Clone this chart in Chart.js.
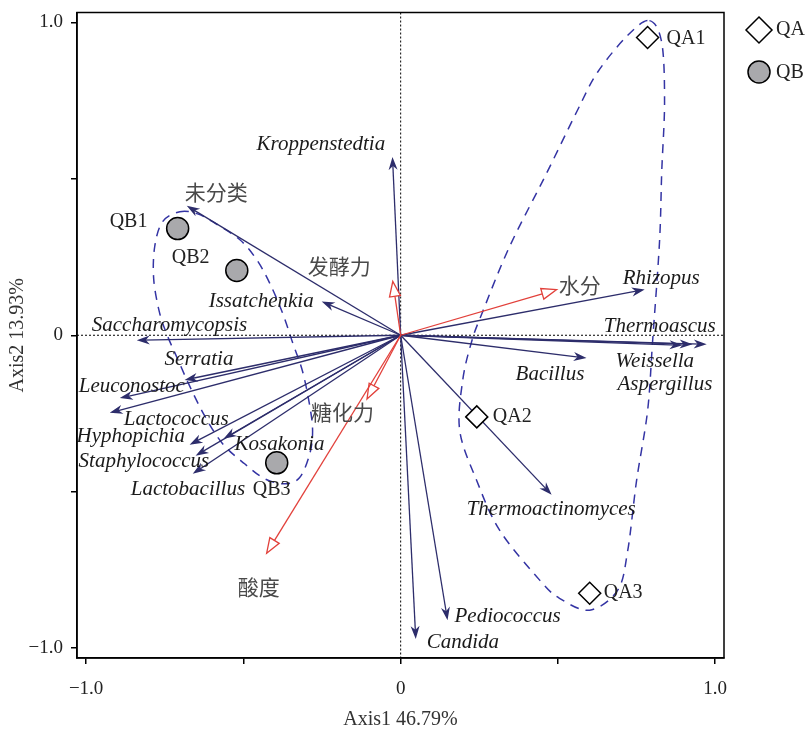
<!DOCTYPE html>
<html>
<head>
<meta charset="utf-8">
<script src="https://cdn.jsdelivr.net/npm/chart.js@4.4.1/dist/chart.umd.min.js"></script>
<style>
  html, body { margin: 0; padding: 0; background: #fff; }
  canvas { display: block; }
</style>
</head>
<body>
<canvas id="rdaChart" width="806" height="734"></canvas>
<script>
// taxa arrows (Axis1, Axis2)
const taxa = ['Kroppenstedtia', '未分类', 'Issatchenkia', 'Saccharomycopsis', 'Serratia', 'Leuconostoc',
  'Lactococcus', 'Hyphopichia', 'Staphylococcus', 'Lactobacillus', 'Kosakonia', 'Rhizopus',
  'Thermoascus', 'Weissella', 'Aspergillus', 'Bacillus', 'Thermoactinomyces', 'Pediococcus', 'Candida'];
const taxaAxis1 = [-0.026, -0.680, -0.251, -0.839, -0.687, -0.893, -0.925, -0.671, -0.652, -0.661, -0.563,
  0.776, 0.973, 0.928, 0.896, 0.591, 0.480, 0.149, 0.048];
const taxaAxis2 = [0.570, 0.414, 0.108, -0.016, -0.143, -0.201, -0.248, -0.350, -0.385, -0.443, -0.331,
  0.146, -0.029, -0.029, -0.032, -0.073, -0.510, -0.911, -0.971];

// environmental factors (red arrows)
const factors = ['发酵力', '水分', '糖化力', '酸度'];
const factorAxis1 = [-0.025, 0.496, -0.107, -0.426];
const factorAxis2 = [0.172, 0.146, -0.204, -0.697];

// samples
const qaNames = ['QA1', 'QA2', 'QA3'];
const qaAxis1 = [0.785, 0.242, 0.601];
const qaAxis2 = [0.952, -0.261, -0.825];
const qbNames = ['QB1', 'QB2', 'QB3'];
const qbAxis1 = [-0.709, -0.521, -0.394];
const qbAxis2 = [0.341, 0.207, -0.408];

// group outlines (dashed)
const qaHullAxis1 = [0.791, 0.830, 0.839, 0.830, 0.823, 0.801, 0.785, 0.750, 0.722, 0.690, 0.601, 0.505,
  0.442, 0.315, 0.242, 0.188, 0.197, 0.226, 0.261, 0.346, 0.458, 0.559, 0.626, 0.722];
const qaHullAxis2 = [1.006, 0.936, 0.745, 0.522, 0.299, -0.019, -0.242, -0.465, -0.688, -0.815, -0.879, -0.841,
  -0.783, -0.624, -0.465, -0.306, -0.146, -0.019, 0.076, 0.283, 0.506, 0.713, 0.841, 0.959];
const qbHullAxis1 = [-0.702, -0.648, -0.598, -0.512, -0.458, -0.416, -0.375, -0.343, -0.312, -0.289, -0.280,
  -0.289, -0.321, -0.369, -0.432, -0.496, -0.566, -0.623, -0.671, -0.709, -0.741, -0.766, -0.785, -0.782, -0.757];
const qbHullAxis2 = [0.395, 0.389, 0.363, 0.306, 0.242, 0.166, 0.070, -0.025, -0.115, -0.226, -0.306,
  -0.379, -0.455, -0.475, -0.459, -0.411, -0.347, -0.258, -0.162, -0.076, -0.003, 0.070, 0.178, 0.283, 0.363];

// axes
const axisTicks = [-1, -0.5, 0, 0.5, 1];
const axisTickLabels = ['−1.0', '', '0', '', '1.0'];
const xTitle = 'Axis1 46.79%';
const yTitle = 'Axis2 13.93%';

// label placement (pixel offset from arrow tip / marker, left edge + middle)
const labelOffset = {
  'Kroppenstedtia': [-136, -13], '未分类': [-2, -14], 'Issatchenkia': [-113, 0],
  'Saccharomycopsis': [-45, -15], 'Serratia': [-20, -20], 'Leuconostoc': [-41, -12],
  'Lactococcus': [14, 7], 'Hyphopichia': [-113, -8], 'Staphylococcus': [-117, 6],
  'Lactobacillus': [-62, 16], 'Kosakonia': [11, 6], 'Rhizopus': [-22, -11],
  'Thermoascus': [-103, -18], 'Weissella': [-77, 17], 'Aspergillus': [-65, 39],
  'Bacillus': [-71, 16], 'Thermoactinomyces': [-85, 15], 'Pediococcus': [7, -4], 'Candida': [11, 4],
  '发酵力': [-85, -15], '水分': [2, -5], '糖化力': [-56, 13], '酸度': [-29, 34],
  'QA1': [19, 1], 'QA2': [16, 0], 'QA3': [14, -1],
  'QB1': [-68, -7], 'QB2': [-65, -13], 'QB3': [-24, 27]
};

const NAVY = '#2d2d6b';
const RED = '#e2413b';
const HULL = '#3434a4';
const SERIF = "'Liberation Serif', 'Times New Roman', serif";
const CJK = "'Noto Sans CJK SC', sans-serif";

function drawHull(ctx, xs, ys, ax1, ax2) {
  const pts = ax1.map((v, i) => [xs.getPixelForValue(v), ys.getPixelForValue(ax2[i])]);
  const n = pts.length;
  ctx.beginPath();
  ctx.moveTo(pts[0][0], pts[0][1]);
  for (let i = 0; i < n; i++) {
    const p0 = pts[(i - 1 + n) % n], p1 = pts[i], p2 = pts[(i + 1) % n], p3 = pts[(i + 2) % n];
    ctx.bezierCurveTo(
      p1[0] + (p2[0] - p0[0]) / 6, p1[1] + (p2[1] - p0[1]) / 6,
      p2[0] - (p3[0] - p1[0]) / 6, p2[1] - (p3[1] - p1[1]) / 6,
      p2[0], p2[1]);
  }
  ctx.closePath();
  ctx.strokeStyle = HULL;
  ctx.lineWidth = 1.5;
  ctx.setLineDash([9, 7]);
  ctx.stroke();
  ctx.setLineDash([]);
}

function drawArrow(ctx, x0, y0, x1, y1, color, filled) {
  const ang = Math.atan2(y1 - y0, x1 - x0);
  const len = filled ? 13 : 15;
  const half = filled ? 4.5 : 5.5;
  const bx = x1 - len * Math.cos(ang), by = y1 - len * Math.sin(ang);
  ctx.strokeStyle = color;
  ctx.lineWidth = 1.3;
  ctx.beginPath();
  ctx.moveTo(x0, y0);
  ctx.lineTo(filled ? x1 - 6 * Math.cos(ang) : bx, filled ? y1 - 6 * Math.sin(ang) : by);
  ctx.stroke();
  ctx.beginPath();
  ctx.moveTo(x1, y1);
  ctx.lineTo(bx + half * Math.sin(ang), by - half * Math.cos(ang));
  if (filled) ctx.lineTo(x1 - 0.7 * len * Math.cos(ang), y1 - 0.7 * len * Math.sin(ang));
  ctx.lineTo(bx - half * Math.sin(ang), by + half * Math.cos(ang));
  ctx.closePath();
  if (filled) {
    ctx.fillStyle = color;
    ctx.fill();
  } else {
    ctx.fillStyle = '#fff';
    ctx.fill();
    ctx.stroke();
  }
}

function isCJK(s) { return /[\u4e00-\u9fff]/.test(s); }

const biplotPlugin = {
  id: 'biplot',
  beforeDatasetsDraw(chart) {
    const { ctx, chartArea: a, scales: { x, y } } = chart;
    ctx.save();
    ctx.beginPath();
    ctx.rect(a.left, a.top, a.right - a.left, a.bottom - a.top);
    ctx.clip();

    drawHull(ctx, x, y, qaHullAxis1, qaHullAxis2);
    drawHull(ctx, x, y, qbHullAxis1, qbHullAxis2);

    const x0 = x.getPixelForValue(0), y0 = y.getPixelForValue(0);
    ctx.strokeStyle = '#000';
    ctx.lineWidth = 1;
    ctx.setLineDash([2, 2]);
    ctx.beginPath();
    ctx.moveTo(x0, a.top); ctx.lineTo(x0, a.bottom);
    ctx.moveTo(a.left, y0); ctx.lineTo(a.right, y0);
    ctx.stroke();
    ctx.setLineDash([]);

    taxa.forEach((name, i) => {
      drawArrow(ctx, x0, y0, x.getPixelForValue(taxaAxis1[i]), y.getPixelForValue(taxaAxis2[i]), NAVY, true);
    });
    factors.forEach((name, i) => {
      drawArrow(ctx, x0, y0, x.getPixelForValue(factorAxis1[i]), y.getPixelForValue(factorAxis2[i]), RED, false);
    });
    ctx.restore();
  },
  afterDatasetsDraw(chart) {
    const { ctx, chartArea: a, scales: { x, y } } = chart;
    ctx.save();
    ctx.textAlign = 'left';
    ctx.textBaseline = 'middle';

    const put = (name, px, py, font, color) => {
      const off = labelOffset[name] || [6, 0];
      ctx.font = font;
      ctx.fillStyle = color;
      ctx.fillText(name, px + off[0], py + off[1]);
    };

    taxa.forEach((name, i) => {
      const px = x.getPixelForValue(taxaAxis1[i]), py = y.getPixelForValue(taxaAxis2[i]);
      if (isCJK(name)) put(name, px, py, `21px ${CJK}`, '#4a4a4a');
      else put(name, px, py, `italic 21px ${SERIF}`, '#1a1a1a');
    });
    factors.forEach((name, i) => {
      put(name, x.getPixelForValue(factorAxis1[i]), y.getPixelForValue(factorAxis2[i]), `21px ${CJK}`, '#4a4a4a');
    });
    qaNames.forEach((name, i) => {
      put(name, x.getPixelForValue(qaAxis1[i]), y.getPixelForValue(qaAxis2[i]), `20px ${SERIF}`, '#222');
    });
    qbNames.forEach((name, i) => {
      put(name, x.getPixelForValue(qbAxis1[i]), y.getPixelForValue(qbAxis2[i]), `20px ${SERIF}`, '#222');
    });

    // plot frame
    ctx.strokeStyle = '#000';
    ctx.lineWidth = 1.5;
    ctx.strokeRect(a.left, a.top, a.right - a.left, a.bottom - a.top);

    // legend
    const lx = a.right + 35;
    ctx.lineWidth = 1.5;
    ctx.beginPath();
    ctx.moveTo(lx, 17); ctx.lineTo(lx + 13, 30); ctx.lineTo(lx, 43); ctx.lineTo(lx - 13, 30);
    ctx.closePath();
    ctx.fillStyle = '#fff';
    ctx.fill();
    ctx.stroke();
    ctx.beginPath();
    ctx.arc(lx, 72, 11, 0, Math.PI * 2);
    ctx.fillStyle = '#a9a9ac';
    ctx.fill();
    ctx.stroke();
    ctx.font = `20px ${SERIF}`;
    ctx.fillStyle = '#222';
    ctx.fillText('QA', lx + 17, 30);
    ctx.fillText('QB', lx + 17, 73);
    ctx.restore();
  }
};

const scaleCommon = (title, titlePad) => ({
  type: 'linear',
  afterBuildTicks: (scale) => { scale.ticks = axisTicks.map(v => ({ value: v })); },
  grid: { drawOnChartArea: false, drawTicks: true, tickLength: 6, color: '#000', lineWidth: 1.5 },
  border: { display: true, color: '#000', width: 1.5 },
  ticks: {
    color: '#222',
    font: { family: SERIF, size: 19 },
    callback: (v) => axisTickLabels[axisTicks.indexOf(v)] ?? ''
  },
  title: { display: true, text: title, color: '#333', font: { family: SERIF, size: 20 }, padding: titlePad }
});

const xScale = scaleCommon(xTitle, { top: 0, bottom: 2 });
xScale.min = -1.029; xScale.max = 1.028;
xScale.ticks.padding = 14;
xScale.afterFit = (scale) => {
  scale.height = 76;
  scale.paddingLeft = 0; scale.paddingRight = 0;
};

const yScale = scaleCommon(yTitle, { top: 6, bottom: 0 });
yScale.min = -1.032; yScale.max = 1.032;
yScale.ticks.padding = 8;
yScale.afterFit = (scale) => {
  scale.width = 77;
  scale.paddingTop = 0; scale.paddingBottom = 0;
};

new Chart(document.getElementById('rdaChart'), {
  type: 'scatter',
  data: {
    datasets: [
      {
        label: 'QA',
        data: qaAxis1.map((v, i) => ({ x: v, y: qaAxis2[i] })),
        pointStyle: 'rectRot',
        pointRadius: 11,
        pointBackgroundColor: '#fff',
        pointBorderColor: '#000',
        pointBorderWidth: 1.5
      },
      {
        label: 'QB',
        data: qbAxis1.map((v, i) => ({ x: v, y: qbAxis2[i] })),
        pointStyle: 'circle',
        pointRadius: 11,
        pointBackgroundColor: '#a9a9ac',
        pointBorderColor: '#000',
        pointBorderWidth: 1.5
      }
    ]
  },
  options: {
    responsive: false,
    animation: false,
    layout: { padding: { left: 0, right: 82, top: 10, bottom: 0 } },
    plugins: { legend: { display: false }, tooltip: { enabled: false } },
    scales: { x: xScale, y: yScale }
  },
  plugins: [biplotPlugin]
});
</script>
</body>
</html>
